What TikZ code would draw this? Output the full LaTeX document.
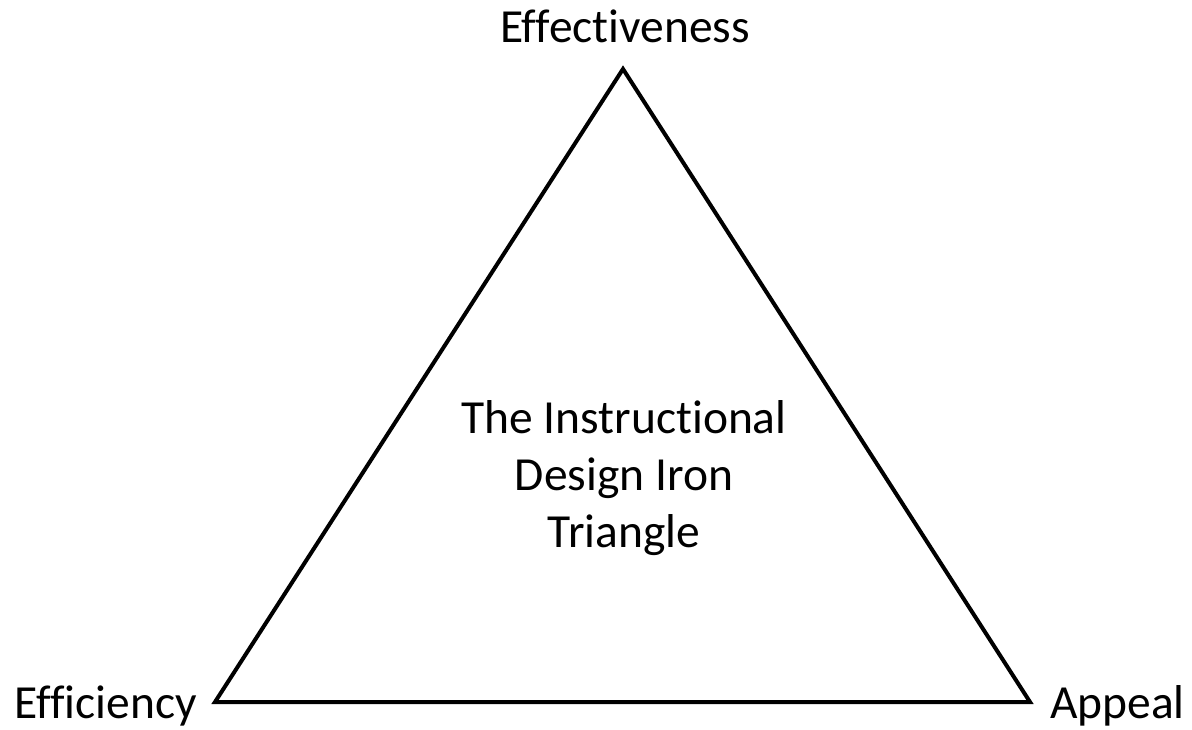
\documentclass[tikz,border=0pt]{standalone}
\usepackage{fontspec}
\setmainfont{Carlito}[Ligatures={NoCommon,NoRare,NoContextual}]
\begin{document}
\begin{tikzpicture}[x=1pt,y=-1pt,
  lbl/.style={inner sep=0pt, font=\fontsize{47.5}{57}\selectfont},
  edge/.style={line width=4pt, line join=miter}]
\useasboundingbox (0,0) rectangle (1192,730);
\coordinate (top) at (623,69);
\coordinate (bl) at (215,702);
\coordinate (br) at (1030,702);
\draw[edge] (top) -- (br) -- (bl) -- cycle;
\node[lbl, anchor=base] (eff) at (625,43) {Effectiveness};
\node[lbl, anchor=base east] (effi) at (197,718) {Efficiency};
\node[lbl, anchor=base west] (app) at (1050,718) {Appeal};
\node[lbl, align=center, anchor=center] (title) at (624,478) {The Instructional\\Design Iron\\Triangle};
\end{tikzpicture}
\end{document}
